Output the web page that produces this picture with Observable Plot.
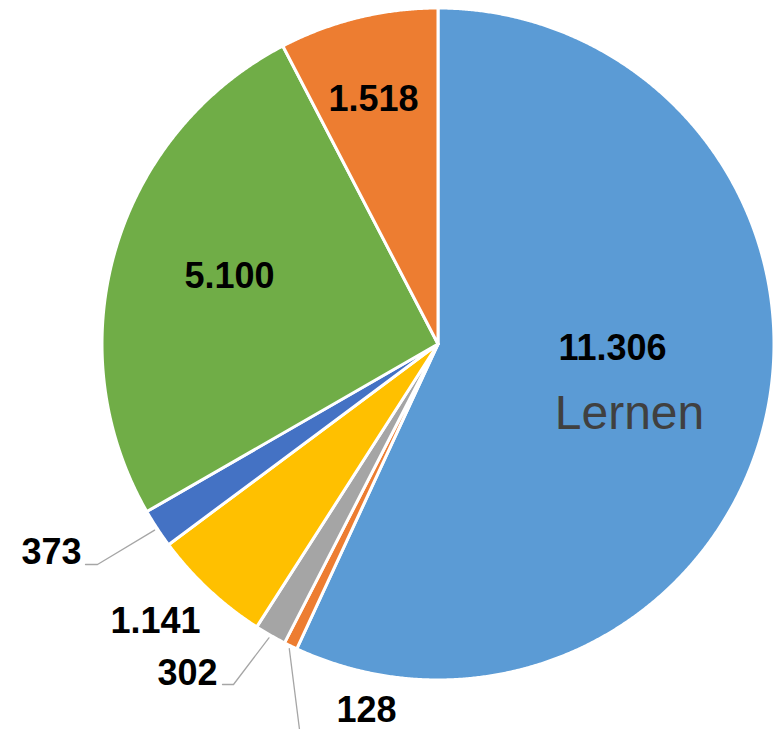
<!DOCTYPE html>
<html><head><meta charset="utf-8">
<script src="https://cdn.jsdelivr.net/npm/d3@7"></script>
<script src="https://cdn.jsdelivr.net/npm/@observablehq/plot@0.6"></script>
<style>html,body{margin:0;padding:0;background:#fff}</style>
</head><body><div id="chart"></div>
<script>
// ---- data ----
const categories = ["Lernen", "Kategorie 2", "Kategorie 3", "Kategorie 4", "Kategorie 5", "Kategorie 6", "Kategorie 7"];
const values = [11306, 128, 302, 1141, 373, 5100, 1518];
const colors = ["#5B9BD5", "#ED7D31", "#A5A5A5", "#FFC000", "#4472C4", "#70AD47", "#ED7D31"];
const nameShown = ["Lernen", null, null, null, null, null, null];

// ---- layout ----
const W = 775, H = 729;
const CX = 437.5, CY = 343.5, R = 336;
const labelLayout = [
  {x: 612, y: 359, anchor: "middle"},
  {x: 396, y: 721, anchor: "end"},
  {x: 217, y: 684, anchor: "end"},
  {x: 155, y: 632, anchor: "middle"},
  {x: 81, y: 563, anchor: "end"},
  {x: 229, y: 287, anchor: "middle"},
  {x: 373, y: 110, anchor: "middle"}
];
const nameLayout = {x: 629, y: 428};
// leader tails (points after the start on the slice rim)
const leaderTails = [null, [[299, 729]], [[233, 684], [222, 684]], null, [[97, 564], [85, 564]], null, null];

const fmt = d3.formatLocale({decimal: ",", thousands: ".", grouping: [3], currency: ["", "€"]}).format(",d");

const slices = categories.map((c, i) => ({i, category: c, value: values[i], color: colors[i]}));
const arcs = d3.pie().sort(null).value(d => d.value)(slices);

const slicePts = arcs.flatMap((a, i) => {
  const pts = [{i, x: CX, y: CY}];
  const n = Math.max(4, Math.ceil((a.endAngle - a.startAngle) / (Math.PI / 720)));
  for (let k = 0; k <= n; k++) {
    const t = a.startAngle + (a.endAngle - a.startAngle) * k / n;
    pts.push({i, x: CX + R * Math.sin(t), y: CY - R * Math.cos(t)});
  }
  return pts;
});

const leaderPts = arcs.flatMap((a, i) => {
  if (!leaderTails[i]) return [];
  const m = (a.startAngle + a.endAngle) / 2;
  const start = {i, x: CX + (R + 3) * Math.sin(m), y: CY - (R + 3) * Math.cos(m)};
  return [start, ...leaderTails[i].map(([x, y]) => ({i, x, y}))];
});

const labels = slices.map((s, i) => ({text: fmt(s.value), ...labelLayout[i]}));
const names = slices.filter(s => nameShown[s.i]).map(s => ({text: nameShown[s.i], ...nameLayout}));

const font = "Liberation Sans, Arial, Helvetica, sans-serif";
const textOpts = {x: "x", y: "y", text: "text", fontSize: 36, fontWeight: "bold", fill: "#000", lineAnchor: "bottom", fontFamily: font};

const chart = Plot.plot({
  width: W, height: H,
  margin: 0,
  x: {domain: [0, W], range: [0, W], axis: null},
  y: {domain: [0, H], range: [0, H], axis: null},
  color: {type: "identity"},
  style: {background: "#fff", fontFamily: font},
  marks: [
    Plot.line(slicePts, {x: "x", y: "y", z: "i", fill: d => colors[d.i], stroke: "#fff", strokeWidth: 3, strokeLinejoin: "round", curve: "linear-closed"}),
    Plot.line(leaderPts, {x: "x", y: "y", z: "i", stroke: "#A6A6A6", strokeWidth: 1.3}),
    Plot.text(labels.filter(d => d.anchor === "middle"), {...textOpts, textAnchor: "middle"}),
    Plot.text(labels.filter(d => d.anchor === "end"), {...textOpts, textAnchor: "end"}),
    Plot.text(names, {x: "x", y: "y", text: "text", fontSize: 48, fill: "#404040", lineAnchor: "bottom", textAnchor: "middle", fontFamily: font})
  ]
});
document.getElementById("chart").appendChild(chart);
</script>
</body></html>
